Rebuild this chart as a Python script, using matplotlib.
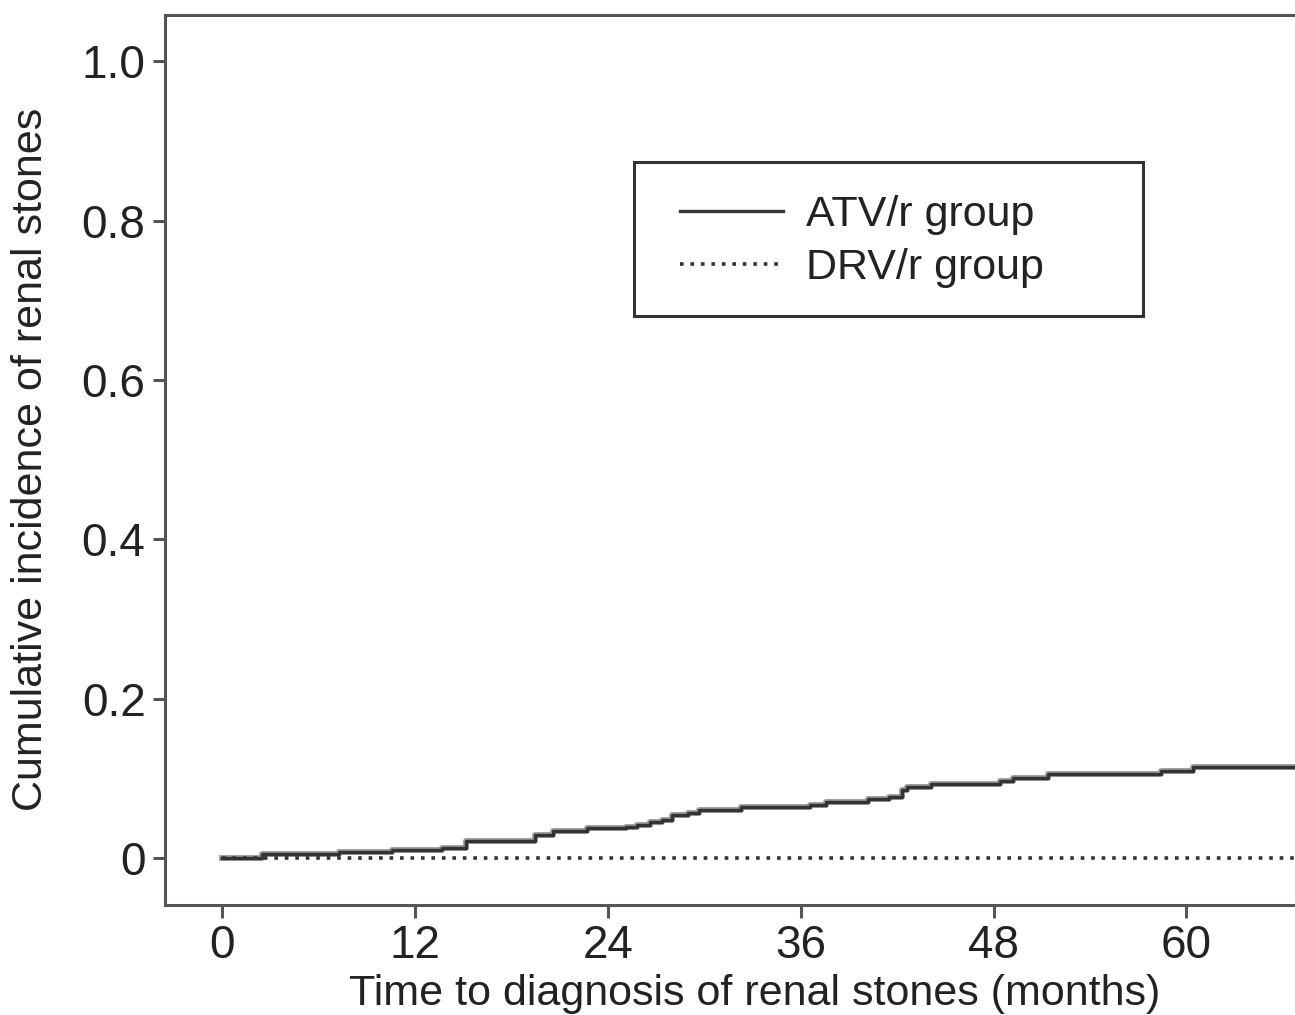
import matplotlib
matplotlib.use("Agg")
import matplotlib.pyplot as plt
from matplotlib.patches import Rectangle

# cumulative incidence (months, fraction)
atv_time = [0, 2.5, 7.3, 10.6, 13.7, 15.2, 19.5, 20.6, 22.7, 25.1, 25.8, 26.6, 27.4, 28.0,
            29.0, 29.7, 32.3, 36.6, 37.6, 40.2, 41.5, 42.3, 42.6, 44.1, 48.4, 49.2, 51.4,
            58.4, 60.4, 72]
atv_value = [0, 0.005, 0.008, 0.010, 0.013, 0.021, 0.029, 0.034, 0.037, 0.039, 0.042, 0.045,
             0.048, 0.054, 0.057, 0.060, 0.064, 0.067, 0.070, 0.074, 0.077, 0.085, 0.089,
             0.093, 0.097, 0.100, 0.105, 0.109, 0.114, 0.114]
drv_time = [0, 72]
drv_value = [0, 0]

x_ticks = [0, 12, 24, 36, 48, 60]
y_ticks = [0, 0.2, 0.4, 0.6, 0.8, 1.0]
y_ticklabels = ["0", "0.2", "0.4", "0.6", "0.8", "1.0"]

plt.rcParams['font.family'] = ['Liberation Sans', 'DejaVu Sans']

fig = plt.figure(figsize=(12.95, 10.15), dpi=100)
# axes run past the right edge of the figure, as in the (cropped) original
ax = fig.add_axes([0.1274, 0.1084, 0.975, 0.8768])

ax.plot(atv_time, atv_value, drawstyle="steps-post", color="#9a9a9a", lw=4.2, zorder=2)
l1, = ax.plot(atv_time, atv_value, drawstyle="steps-post", color="#333333", lw=2.4, zorder=3)
l2, = ax.plot(drv_time, drv_value, color="#333333", lw=2.6, linestyle=(0, (1, 1.9)), zorder=4)

ax.set_xlim(-3.55, 75)
ax.set_ylim(-0.059, 1.058)
ax.set_xticks(x_ticks)
ax.set_xticklabels([str(t) for t in x_ticks])
ax.set_yticks(y_ticks)
ax.set_yticklabels(y_ticklabels)

for s in ax.spines.values():
    s.set_linewidth(2.2)
    s.set_color("#555555")
ax.tick_params(axis="both", direction="out", length=9, width=2.2, color="#555555",
               labelsize=33, labelcolor="#222222", pad=5)

fig.text(0.583, 0.0099, "Time to diagnosis of renal stones (months)", fontsize=31,
         color="#222222", ha="center", va="baseline")
fig.text(0.024, 0.547, "Cumulative incidence of renal stones", fontsize=31,
         color="#222222", rotation=90, ha="center", va="center")

# legend: entries without frame, box drawn separately (original box is wider)
leg = fig.legend([l1, l2], ["ATV/r group", "DRV/r group"], loc="upper left",
                 bbox_to_anchor=(0.5251, 0.8079), fontsize=31, frameon=False,
                 handlelength=2.4, handletextpad=0.53, borderpad=0, labelspacing=0.31,
                 borderaxespad=0)
for t in leg.get_texts():
    t.set_color("#222222")
fig.patches.append(Rectangle((0.4896, 0.6887), 0.3931, 0.1517, transform=fig.transFigure,
                             fill=False, edgecolor="#333333", linewidth=2.2))

fig.savefig("out.png", dpi=100)
